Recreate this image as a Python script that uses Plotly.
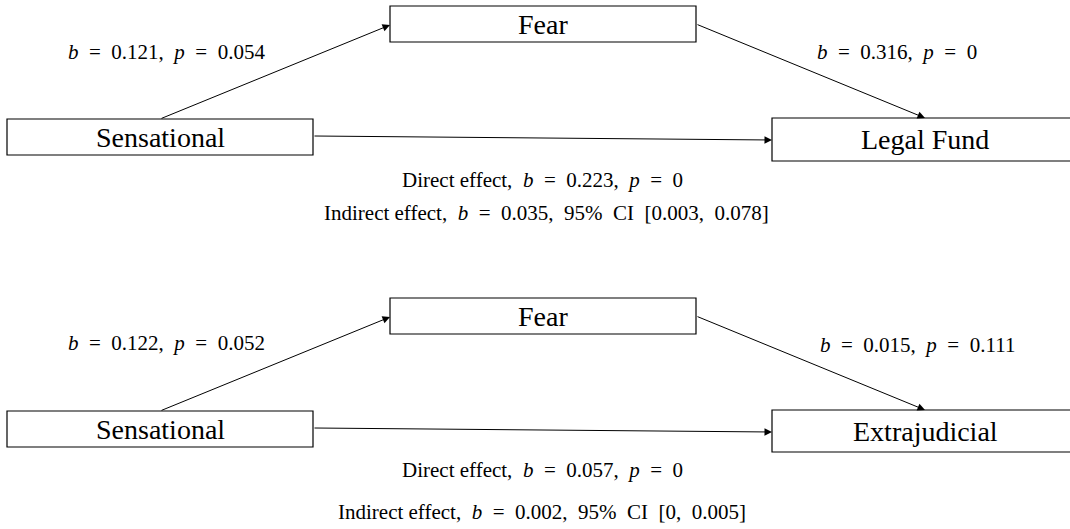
import plotly.graph_objects as go

# ---- data ----
predictor = "Sensational"
mediator = "Fear"
outcomes = ["Legal Fund", "Extrajudicial"]
a_b = [0.121, 0.122]
a_p = [0.054, 0.052]
b_b = [0.316, 0.015]
b_p = [0, 0.111]
direct_b = [0.223, 0.057]
direct_p = [0, 0]
indirect_b = [0.035, 0.002]
ci_low = [0.003, 0]
ci_high = [0.078, 0.005]

# ---- layout (page-pixel coordinates) ----
W, H = 1070, 529
FONT = "Liberation Serif"
panel_dy = [0, 292]
lbl_y = [52, 343]
blbl_y = [52, 345]
direct_y = [180, 470]
indirect_y = [213, 512]
out_bottom = [161, 452]

EQ = "\u2002=\u2002"
CM = ",\u2002"


def fmt(v):
    return f"{v:g}"


def bp(bv, pv):
    return f"<i>b</i>{EQ}{fmt(bv)}{CM}<i>p</i>{EQ}{fmt(pv)}"


fig = go.Figure()
shapes = []
anns = []

for i, out in enumerate(outcomes):
    dy = panel_dy[i]
    fear = (390, 6 + dy, 696, 42 + dy)
    sens = (7, 119 + dy, 313, 155 + dy)
    outb = (772, 118 + dy, 1078, out_bottom[i])
    for (x0, y0, x1, y1), txt in [(fear, mediator), (sens, predictor), (outb, out)]:
        shapes.append(dict(type="rect", xref="x", yref="y", x0=x0, y0=y0, x1=x1, y1=y1,
                           line=dict(color="black", width=1.2), fillcolor="white", layer="below"))
        anns.append(dict(x=(x0 + x1) / 2, y=(y0 + y1) / 2, xref="x", yref="y", text=txt,
                         showarrow=False, font=dict(family=FONT, size=28, color="black"),
                         xanchor="center", yanchor="middle"))
    arrows = [
        ((160, 119 + dy), (390, 25 + dy)),
        ((696, 24 + dy), (925, 118 + dy)),
        ((313, 136 + dy), (772, 140 + dy)),
    ]
    for (tx, ty), (hx, hy) in arrows:
        anns.append(dict(x=hx, y=hy, ax=tx, ay=ty, xref="x", yref="y", axref="x", ayref="y",
                         text="", showarrow=True, arrowhead=2, arrowsize=1.5, arrowwidth=1,
                         arrowcolor="black", standoff=0, startstandoff=0))
    f = dict(family=FONT, size=21, color="black")
    anns.append(dict(x=166, y=lbl_y[i], xref="x", yref="y", showarrow=False, font=f,
                     text=bp(a_b[i], a_p[i])))
    bx = 897 if i == 0 else 917
    anns.append(dict(x=bx, y=blbl_y[i], xref="x", yref="y", showarrow=False, font=f,
                     text=bp(b_b[i], b_p[i])))
    anns.append(dict(x=542, y=direct_y[i], xref="x", yref="y", showarrow=False, font=f,
                     text="Direct effect" + CM + bp(direct_b[i], direct_p[i])))
    anns.append(dict(x=546 if i == 0 else 542, y=indirect_y[i], xref="x", yref="y",
                     showarrow=False, font=f,
                     text=("Indirect effect" + CM + f"<i>b</i>{EQ}{fmt(indirect_b[i])}" + CM +
                           f"95%\u2002CI\u2002[{fmt(ci_low[i])},\u2002{fmt(ci_high[i])}]")))

fig.update_layout(
    width=W, height=H,
    margin=dict(l=0, r=0, t=0, b=0),
    paper_bgcolor="white", plot_bgcolor="white",
    xaxis=dict(range=[0, W], visible=False, fixedrange=True),
    yaxis=dict(range=[H, 0], visible=False, fixedrange=True),
    shapes=shapes, annotations=anns, showlegend=False,
)
fig.write_html("out.html", config={"displayModeBar": False},
               post_script="document.body.style.margin='0';")
